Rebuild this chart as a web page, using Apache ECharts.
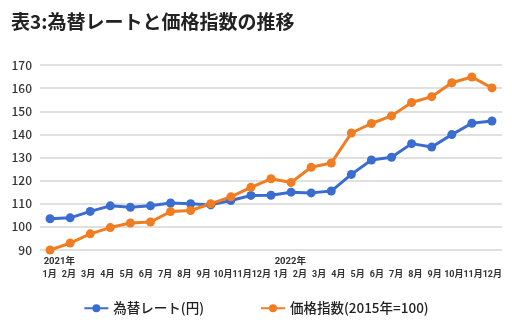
<!DOCTYPE html>
<html>
<head>
<meta charset="utf-8">
<script src="https://cdn.jsdelivr.net/npm/echarts@6/dist/echarts.min.js"></script>
<style>
html,body{margin:0;padding:0;background:#fff;}
#c{width:512px;height:331px;}
</style>
</head>
<body>
<div id="c"></div>
<script>
// Axis labels shown in the reference (24 months)
const monthLabels = ['1月','2月','3月','4月','5月','6月','7月','8月','9月','10月','11月','12月',
                     '1月','2月','3月','4月','5月','6月','7月','8月','9月','10月','11月','12月'];
const yearLabels = ['2021年','','','','','','','','','','','',
                    '2022年','','','','','','','','','','',''];
// Data months (Jan 2021 – Nov 2022, 23 points)
const dataMonths = ['2021-01','2021-02','2021-03','2021-04','2021-05','2021-06','2021-07','2021-08','2021-09','2021-10','2021-11','2021-12',
                    '2022-01','2022-02','2022-03','2022-04','2022-05','2022-06','2022-07','2022-08','2022-09','2022-10','2022-11'];
const exchangeRate = [103.5, 103.9, 106.7, 109.1, 108.5, 109.1, 110.3, 110.0, 109.5, 111.4, 113.6, 113.7,
                      115.0, 114.7, 115.5, 122.7, 128.9, 130.1, 136.0, 134.5, 139.9, 144.8, 145.8];
const priceIndex = [90.0, 93.0, 97.0, 99.7, 101.7, 102.1, 106.6, 107.1, 110.0, 113.0, 117.1, 120.8,
                    119.2, 125.8, 127.6, 140.6, 144.7, 148.0, 153.8, 156.3, 162.3, 164.8, 160.1];
const seriesNames = ['為替レート(円)', '価格指数(2015年=100)'];
const titleText = '表3:為替レートと価格指数の推移';

const FONT = '"Noto Sans CJK JP", "Noto Sans", sans-serif';
const SMALLFONT = 'Roboto, "Noto Sans CJK JP", sans-serif';
const BLUE = '#3a6dcf';
const ORANGE = '#f07d22';

const chart = echarts.init(document.getElementById('c'), null, {renderer: 'canvas'});
chart.setOption({
  animation: false,
  backgroundColor: '#fff',
  title: {
    text: titleText,
    left: 6, top: 7,
    textStyle: {fontFamily: FONT, fontSize: 19, fontWeight: 'bold', color: '#222'}
  },
  legend: {
    data: seriesNames,
    bottom: 11,
    left: 'center',
    itemWidth: 24, itemHeight: 10,
    itemGap: 56,
    textStyle: {fontFamily: FONT, fontSize: 13.5, color: '#222', fontWeight: 500}
  },
  grid: {left: 40, right: 10, top: 65, bottom: 81},
  xAxis: [
    {
      type: 'category', data: monthLabels, boundaryGap: true,
      axisLine: {show: false}, axisTick: {show: false}, splitLine: {show: false},
      axisLabel: {interval: 0, margin: 20, fontFamily: SMALLFONT, fontSize: 9, fontWeight: 'bold', color: '#333'}
    },
    {
      type: 'category', data: yearLabels, boundaryGap: true, position: 'bottom',
      axisLine: {show: false}, axisTick: {show: false}, splitLine: {show: false},
      axisLabel: {interval: 0, margin: 7, align: 'left', padding: [0, 0, 0, -6],
                  fontFamily: SMALLFONT, fontSize: 9.5, fontWeight: 'bold', color: '#333'}
    },
    {
      type: 'category', data: dataMonths, boundaryGap: true, show: false
    }
  ],
  yAxis: {
    type: 'value', min: 90, max: 170, interval: 10,
    axisLine: {show: false}, axisTick: {show: false},
    splitLine: {lineStyle: {color: '#d6d6d6', width: 1.5}},
    axisLabel: {margin: 8, fontFamily: FONT, fontSize: 12, fontWeight: 500, color: '#333'}
  },
  series: [
    {
      name: seriesNames[0], type: 'line', xAxisIndex: 2, data: exchangeRate,
      symbol: 'circle', symbolSize: 9,
      lineStyle: {color: BLUE, width: 3}, itemStyle: {color: BLUE}
    },
    {
      name: seriesNames[1], type: 'line', xAxisIndex: 2, data: priceIndex,
      symbol: 'circle', symbolSize: 9,
      lineStyle: {color: ORANGE, width: 3}, itemStyle: {color: ORANGE}
    }
  ]
});
</script>
</body>
</html>
